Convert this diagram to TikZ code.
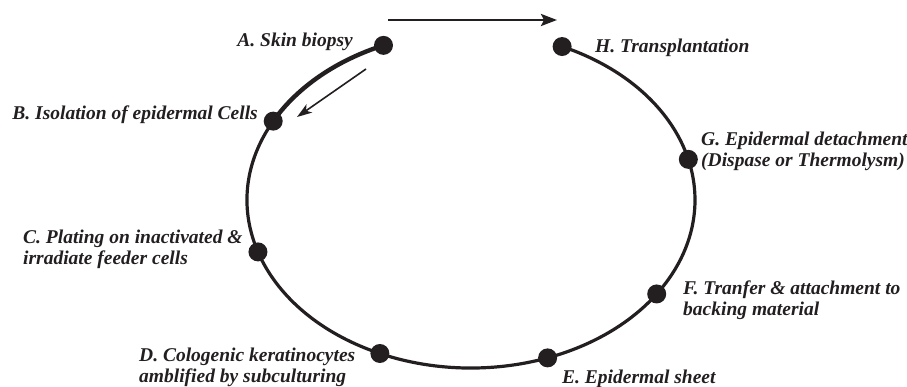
\documentclass[tikz,border=0pt]{standalone}
\usepackage{fontspec}
\setmainfont{Liberation Serif}
\usetikzlibrary{arrows.meta}
\definecolor{ink}{RGB}{35,31,32}
\tikzset{
  stagedot/.style={circle, fill=ink, draw=none, minimum size=19pt, inner sep=0pt},
  lbl/.style={inner sep=0pt, text=ink, align=left,
    font=\fontsize{19.5}{21}\selectfont\bfseries\itshape},
  ring/.style={draw=ink, line width=3.2pt},
  ringthick/.style={draw=ink, line width=4.4pt},
}
\begin{document}
\begin{tikzpicture}[x=1pt,y=1pt]
\useasboundingbox (0,0) rectangle (907,-386);
% ellipse centre (471,-200), radii 224 x 168
\def\ecx{471}\def\ecy{-200}\def\erx{224}\def\ery{168}
\foreach \n/\t in {A/113,B/152,C/198,D/246,E/290,F/326,G/374,H/426}{
  \coordinate (p\n) at ({\ecx+\erx*cos(\t)},{\ecy+\ery*sin(\t)});
}
\draw[ringthick] (pA) arc[start angle=113, end angle=152, x radius=224pt, y radius=168pt];
\draw[ring] (pB) arc[start angle=152, end angle=426, x radius=224pt, y radius=168pt];
\foreach \n in {A,B,C,D,E,F,G,H}{
  \node[stagedot] (d\n) at (p\n) {};
}
% arrows
\coordinate (t1) at (388,-20);
\coordinate (t2) at (557,-20);
\draw[draw=ink, line width=2.6pt, -{Stealth[length=16pt,width=12pt,inset=3pt]}] (t1) -- (t2);
\coordinate (s1) at (366,-69);
\coordinate (s2) at (297,-117);
\draw[draw=ink, line width=1.6pt, -{Stealth[length=15pt,width=10pt,inset=4pt]}] (s1) -- (s2);
% labels (base anchor = baseline of the last line)
\node[lbl, anchor=base east] (lA) at (353,-46) {A. Skin biopsy};
\node[lbl, anchor=base east] (lB) at (258,-119) {B. Isolation of epidermal Cells};
\node[lbl, anchor=base west] (lC) at (23,-264) {C. Plating on inactivated \&\\irradiate feeder cells};
\node[lbl, anchor=base west] (lD) at (139,-382) {D. Cologenic keratinocytes\\amblified by subculturing};
\node[lbl, anchor=base west] (lE) at (562,-383) {E. Epidermal sheet};
\node[lbl, anchor=base west] (lF) at (683,-315) {F. Tranfer \& attachment to\\backing material};
\node[lbl, anchor=base west] (lG) at (701,-166) {G. Epidermal detachment\\(Dispase or Thermolysm)};
\node[lbl, anchor=base west] (lH) at (595,-52) {H. Transplantation};
\end{tikzpicture}
\end{document}
